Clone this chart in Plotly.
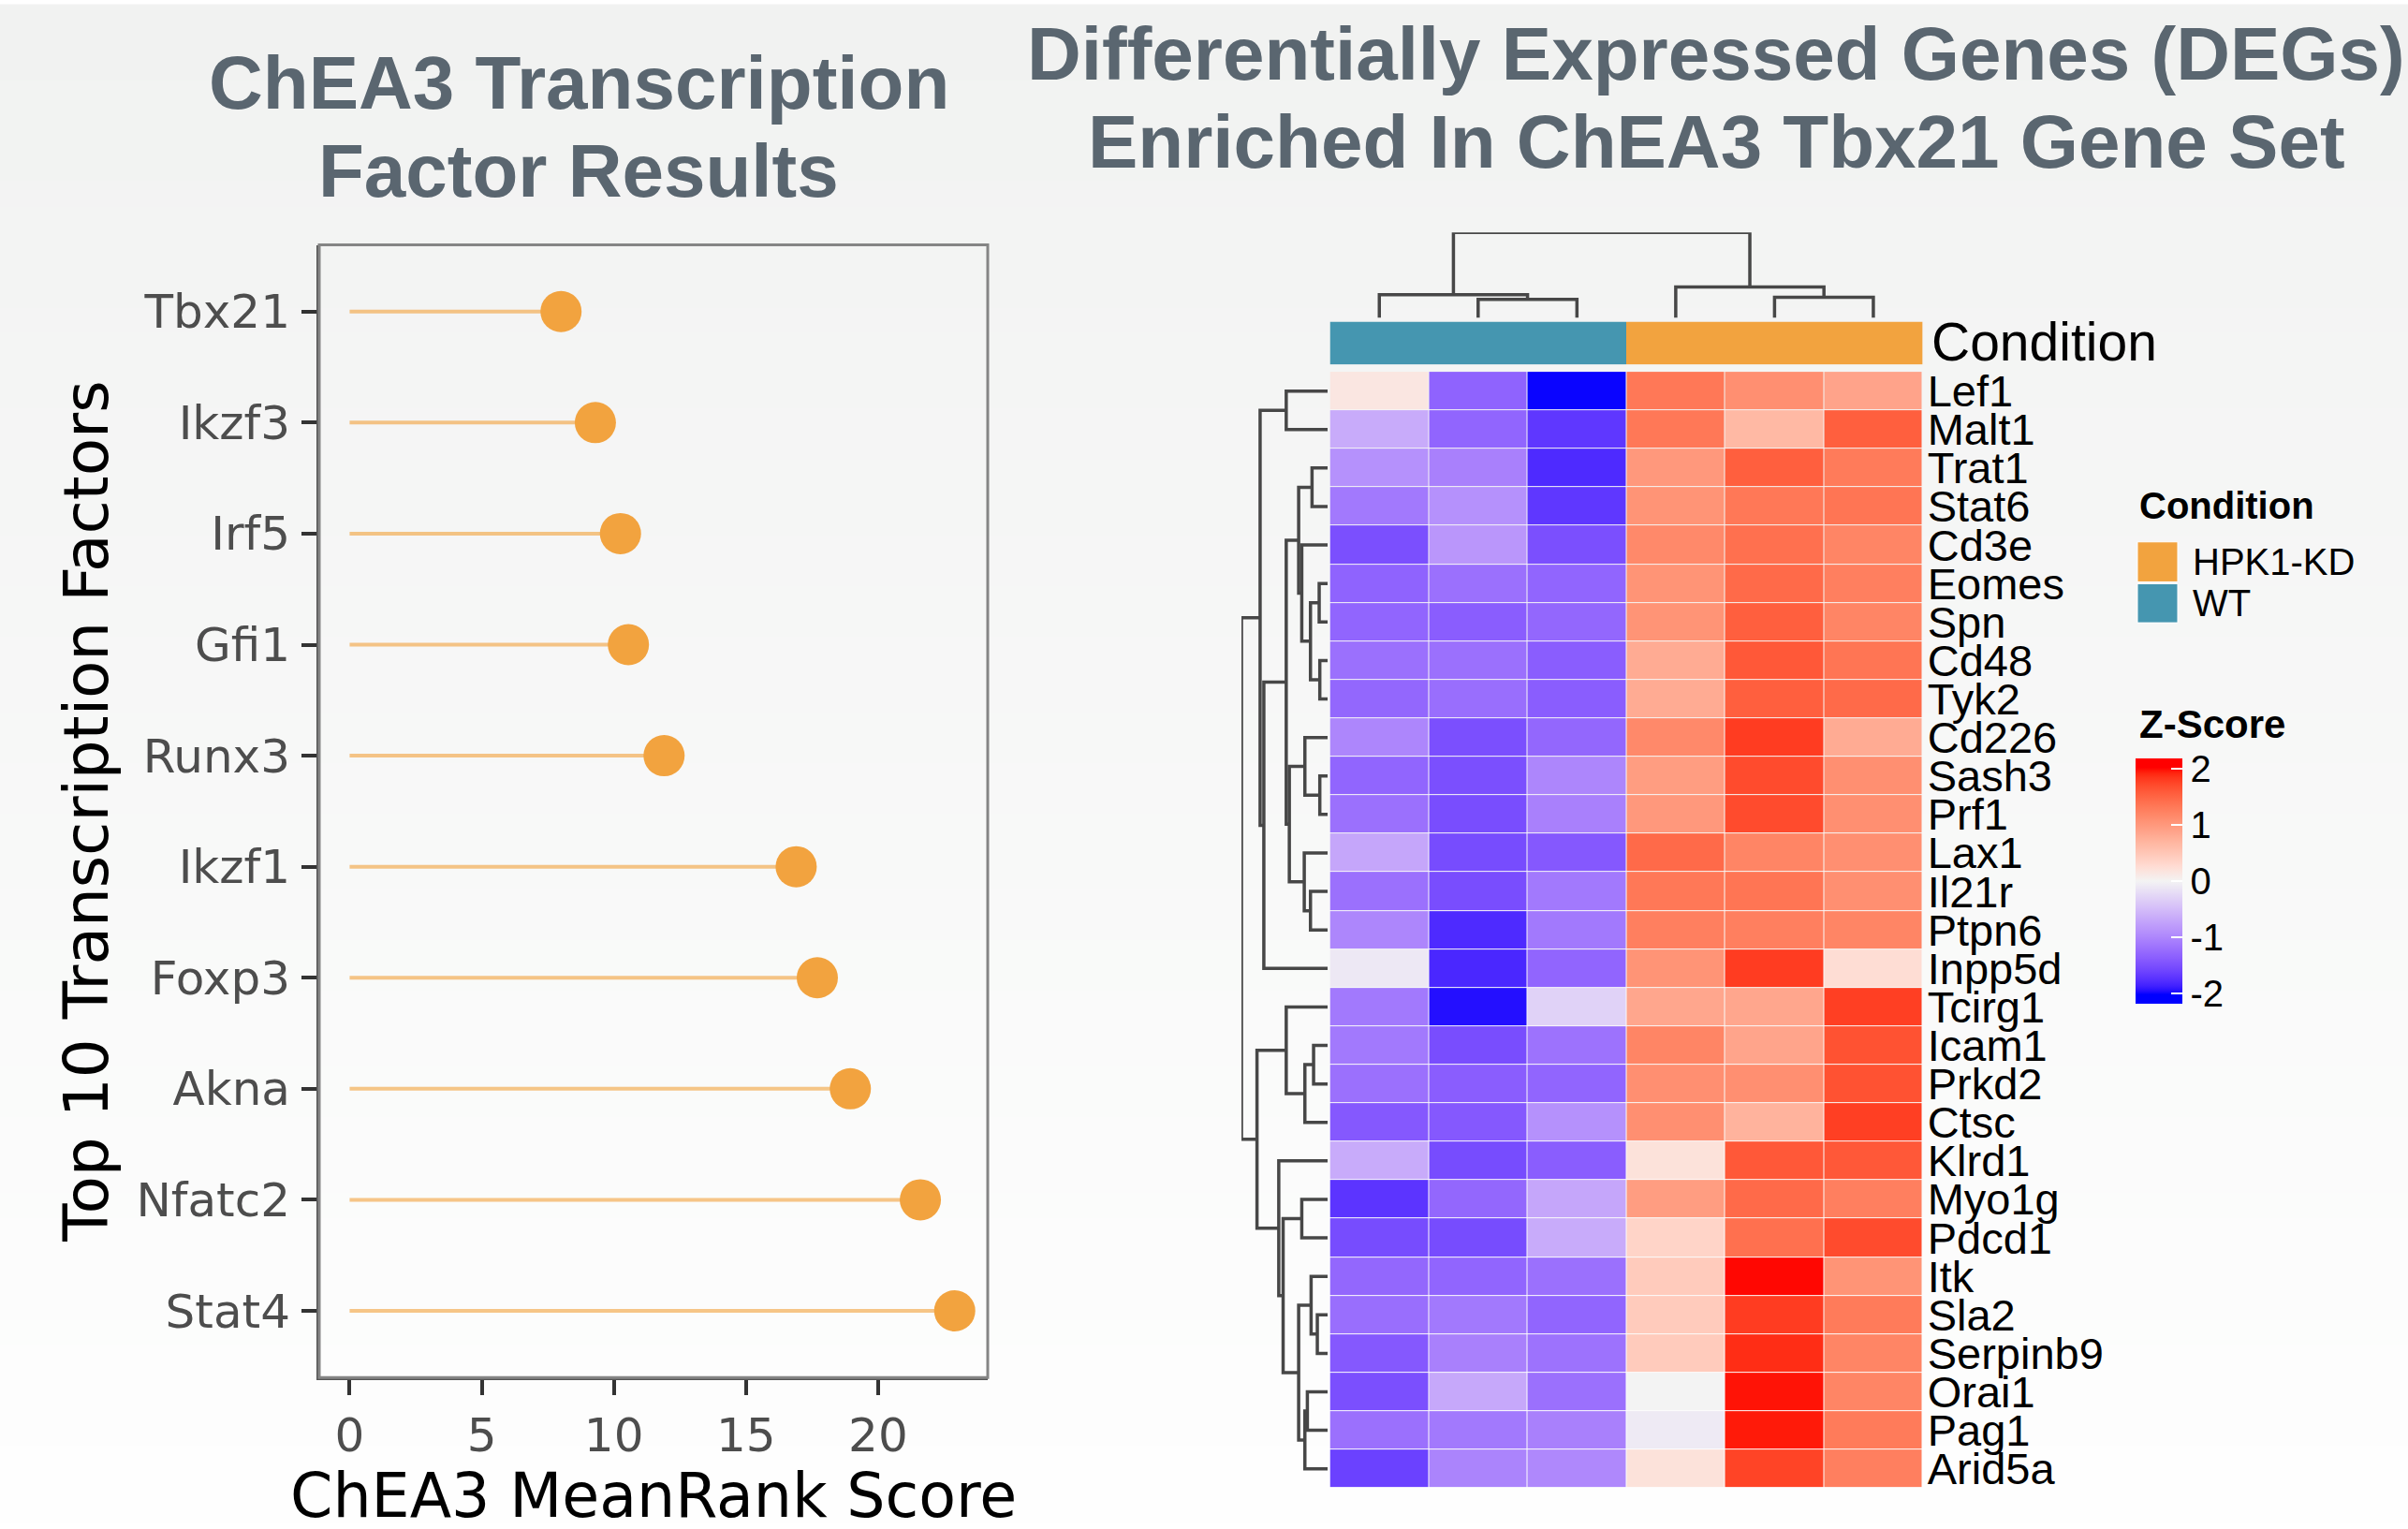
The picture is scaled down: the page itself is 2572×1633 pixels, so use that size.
import plotly.graph_objects as go

W, H = 2572, 1633

# ---------------- data: lollipop ----------------
tf_names = ["Tbx21", "Ikzf3", "Irf5", "Gfi1", "Runx3", "Ikzf1", "Foxp3", "Akna", "Nfatc2", "Stat4"]
tf_scores = [8.0, 9.3, 10.25, 10.55, 11.9, 16.9, 17.7, 18.95, 21.6, 22.9]
x_ticks = [0, 5, 10, 15, 20]

# ---------------- data: heatmap ----------------
genes = ["Lef1", "Malt1", "Trat1", "Stat6", "Cd3e", "Eomes", "Spn", "Cd48", "Tyk2", "Cd226",
         "Sash3", "Prf1", "Lax1", "Il21r", "Ptpn6", "Inpp5d", "Tcirg1", "Icam1", "Prkd2", "Ctsc",
         "Klrd1", "Myo1g", "Pdcd1", "Itk", "Sla2", "Serpinb9", "Orai1", "Pag1", "Arid5a"]
samples = ["WT_1", "WT_2", "WT_3", "KD_1", "KD_2", "KD_3"]
sample_condition = ["WT", "WT", "WT", "HPK1-KD", "HPK1-KD", "HPK1-KD"]

wt1 = [0.15, -0.65, -0.9, -1.12, -1.5, -1.32, -1.3, -1.2, -1.28, -1.0,
       -1.3, -1.2, -0.7, -1.2, -1.0, -0.1, -1.12, -1.12, -1.2, -1.42,
       -0.65, -1.72, -1.53, -1.28, -1.22, -1.42, -1.5, -1.2, -1.62]
wt2 = [-1.32, -1.3, -1.05, -0.9, -0.85, -1.2, -1.37, -1.2, -1.22, -1.5,
       -1.5, -1.52, -1.53, -1.52, -1.8, -1.82, -1.95, -1.52, -1.37, -1.42,
       -1.53, -1.28, -1.53, -1.3, -1.12, -1.05, -0.68, -1.12, -1.02]
wt3 = [-2.0, -1.7, -1.8, -1.7, -1.5, -1.3, -1.28, -1.37, -1.37, -1.28,
       -1.0, -1.05, -1.42, -1.12, -1.12, -1.3, -0.3, -1.18, -1.3, -0.9,
       -1.37, -0.7, -0.65, -1.2, -1.3, -1.18, -1.2, -1.05, -0.98]
kd1 = [1.33, 1.33, 1.0, 1.05, 1.15, 1.05, 1.05, 0.8, 0.8, 1.15,
       0.95, 1.0, 1.45, 1.33, 1.25, 1.05, 0.85, 1.2, 1.1, 1.1,
       0.2, 0.95, 0.35, 0.45, 0.45, 0.45, 0.0, -0.08, 0.2]
kd2 = [1.1, 0.65, 1.55, 1.33, 1.4, 1.45, 1.55, 1.6, 1.55, 1.8,
       1.7, 1.7, 1.2, 1.35, 1.25, 1.8, 0.85, 0.87, 1.1, 0.72,
       1.6, 1.45, 1.4, 2.0, 1.8, 1.88, 1.97, 1.95, 1.75]
kd3 = [0.88, 1.55, 1.3, 1.35, 1.2, 1.25, 1.2, 1.35, 1.45, 0.8,
       1.1, 1.1, 1.1, 1.1, 1.2, 0.25, 1.78, 1.65, 1.65, 1.78,
       1.6, 1.25, 1.7, 1.05, 1.3, 1.2, 1.2, 1.3, 1.25]

# dendrograms: (node, left child, right child, merge height)
row_links = [
    ("A", "Lef1", "Malt1", 133), ("F", "Trat1", "Stat6", 50), ("I", "Eomes", "Spn", 27),
    ("J", "Cd48", "Tyk2", 25), ("H", "I", "J", 55), ("G", "Cd3e", "H", 83), ("D", "F", "G", 93),
    ("M", "Sash3", "Prf1", 25), ("K", "Cd226", "M", 73), ("N", "Il21r", "Ptpn6", 55),
    ("L", "Lax1", "N", 75), ("E", "K", "L", 123), ("C", "D", "E", 133), ("B", "C", "Inpp5d", 205),
    ("Top", "A", "B", 217), ("S", "Icam1", "Prkd2", 45), ("R", "S", "Ctsc", 73),
    ("P", "Tcirg1", "R", 133), ("U", "Myo1g", "Pdcd1", 83), ("Y", "Sla2", "Serpinb9", 33),
    ("Wn", "Itk", "Y", 53), ("Z", "Orai1", "Pag1", 65), ("X", "Z", "Arid5a", 73),
    ("V", "Wn", "X", 93), ("Tn", "U", "V", 143), ("Q", "Klrd1", "Tn", 157),
    ("Bot", "P", "Q", 227), ("Root", "Top", "Bot", 277),
]
col_links = [
    ("c23", "WT_2", "WT_3", 52), ("cWT", "WT_1", "c23", 65),
    ("c56", "KD_2", "KD_3", 58), ("cKD", "KD_1", "c56", 87),
    ("root", "cWT", "cKD", 240),
]

z_ticks = [-2, -1, 0, 1, 2]
z_ticktext = ["-2", "-1", "0", "1", "2"]

# ---------------- colours ----------------
ORANGE = "#f2a33f"
TEAL = "#4596b0"
TITLE_C = "#5a6670"


def _lin(c):
    c = c / 255
    return c / 12.92 if c <= 0.04045 else ((c + 0.055) / 1.055) ** 2.4


def rgb2lab(rgb):
    R, G, B = (_lin(v) for v in rgb)
    X = (0.4124 * R + 0.3576 * G + 0.1805 * B) / 0.95047
    Y = (0.2126 * R + 0.7152 * G + 0.0722 * B)
    Z = (0.0193 * R + 0.1192 * G + 0.9505 * B) / 1.08883
    f = lambda t: t ** (1 / 3) if t > 0.008856 else 7.787 * t + 16 / 116
    fx, fy, fz = f(X), f(Y), f(Z)
    return (116 * fy - 16, 500 * (fx - fy), 200 * (fy - fz))


def lab2rgb(lab):
    L, a, b = lab
    fy = (L + 16) / 116
    fx = fy + a / 500
    fz = fy - b / 200
    finv = lambda t: t ** 3 if t > 0.206893 else (t - 16 / 116) / 7.787
    X = 0.95047 * finv(fx)
    Y = finv(fy)
    Z = 1.08883 * finv(fz)
    R = 3.2406 * X - 1.5372 * Y - 0.4986 * Z
    G = -0.9689 * X + 1.8758 * Y + 0.0415 * Z
    B = 0.0557 * X - 0.2040 * Y + 1.0570 * Z

    def g(c):
        c = min(max(c, 0.0), 1.0)
        return 12.92 * c if c <= 0.0031308 else 1.055 * c ** (1 / 2.4) - 0.055
    return tuple(int(round(255 * g(c))) for c in (R, G, B))


LAB_BLUE = rgb2lab((0, 0, 255))
LAB_MID = rgb2lab((243, 243, 243))
LAB_RED = rgb2lab((255, 0, 0))


def zcolor(v):
    v = max(-2.0, min(2.0, v))
    if v < 0:
        t = (v + 2) / 2
        c1, c2 = LAB_BLUE, LAB_MID
    else:
        t = v / 2
        c1, c2 = LAB_MID, LAB_RED
    lab = tuple(c1[i] + (c2[i] - c1[i]) * t for i in range(3))
    r, g, b = lab2rgb(lab)
    return f"rgb({r},{g},{b})"


CMIN, CMAX = -2.18, 2.18
NSTOP = 81
colorscale = []
for k in range(NSTOP):
    p = k / (NSTOP - 1)
    v = CMIN + p * (CMAX - CMIN)
    colorscale.append([p, zcolor(v)])


def px_x(x):
    return x / W


def px_y(y):
    return 1 - y / H


fig = go.Figure()

# background gradient bands
shapes = []
NB = 60
for i in range(NB):
    t = i / (NB - 1)
    r = round(241 + (254 - 241) * t)
    g = round(242 + (254 - 242) * t)
    b = round(241 + (254 - 241) * t)
    shapes.append(dict(type="rect", xref="paper", yref="paper", x0=0, x1=1,
                       y0=1 - (i + 1) / NB, y1=1 - i / NB + 0.001,
                       fillcolor=f"rgb({r},{g},{b})", line=dict(width=0), layer="below"))

# ---------------- lollipop ----------------
seg_x, seg_y = [], []
for name, val in zip(tf_names, tf_scores):
    seg_x += [0, val, None]
    seg_y += [name, name, None]
fig.add_trace(go.Scatter(x=seg_x, y=seg_y, mode="lines", xaxis="x", yaxis="y",
                         line=dict(color="rgba(242,163,63,0.62)", width=4),
                         hoverinfo="skip", showlegend=False))
fig.add_trace(go.Scatter(x=tf_scores, y=tf_names, mode="markers", xaxis="x", yaxis="y",
                         marker=dict(color=ORANGE, size=44, line=dict(width=0)),
                         showlegend=False))

# ---------------- heatmap ----------------
zmat = [list(r) for r in zip(wt1, wt2, wt3, kd1, kd2, kd3)]
fig.add_trace(go.Heatmap(
    z=zmat, x=list(range(len(samples))), y=list(range(len(genes))),
    xaxis="x2", yaxis="y2", colorscale=colorscale, zmin=CMIN, zmax=CMAX,
    xgap=1, ygap=1, hoverinfo="z",
    colorbar=dict(
        x=px_x(2281), xanchor="left", xpad=0, ypad=0,
        y=px_y(942), yanchor="middle", len=262, lenmode="pixels",
        thickness=50, thicknessmode="pixels", outlinewidth=0,
        tickvals=z_ticks, ticktext=z_ticktext, ticks="inside", ticklen=12,
        tickcolor="white", tickwidth=2,
        tickfont=dict(family="Liberation Sans", size=40, color="black"),
    ),
))

# annotation bar
cond_codes = [0 if c == "WT" else 1 for c in sample_condition]
fig.add_trace(go.Heatmap(
    z=[cond_codes], x=list(range(len(samples))), y=[0], xaxis="x2", yaxis="y5",
    colorscale=[[0, TEAL], [0.5, TEAL], [0.5, ORANGE], [1, ORANGE]],
    zmin=0, zmax=1, showscale=False, hoverinfo="skip"))


def dendro_segments(links, leaves):
    pos = {n: i for i, n in enumerate(leaves)}
    hgt = {n: 0.0 for n in leaves}
    xs, hs = [], []
    for node, a, b, h in links:
        pa, pb = pos[a], pos[b]
        xs += [pa, pa, pb, pb, None]
        hs += [hgt[a], h, h, hgt[b], None]
        pos[node] = (pa + pb) / 2
        hgt[node] = h
    return xs, hs


rp, rh = dendro_segments(row_links, genes)
fig.add_trace(go.Scatter(x=rh, y=rp, mode="lines", xaxis="x3", yaxis="y2",
                         line=dict(color="#474747", width=3.5), hoverinfo="skip", showlegend=False))
cp, ch = dendro_segments(col_links, samples)
fig.add_trace(go.Scatter(x=cp, y=ch, mode="lines", xaxis="x2", yaxis="y4",
                         line=dict(color="#474747", width=3.5), hoverinfo="skip", showlegend=False))

# ---------------- axes ----------------
lp_x0, lp_x1 = px_x(341), px_x(1055)
lp_y0, lp_y1 = px_y(1476), px_y(257.5)
hm_x0, hm_x1 = px_x(1420.5), px_x(2053.7)
hm_y0, hm_y1 = px_y(1595), px_y(394)

axis_hidden = dict(visible=False, showgrid=False, zeroline=False, fixedrange=True)

fig.update_layout(
    width=W, height=H, margin=dict(l=0, r=0, t=0, b=0),
    paper_bgcolor="white", plot_bgcolor="rgba(0,0,0,0)",
    showlegend=False,
    xaxis=dict(domain=[lp_x0, lp_x1], range=[-1.15, 24.15], anchor="y",
               tickvals=x_ticks, ticks="outside", ticklen=16, tickwidth=4, tickcolor="#333333",
               tickfont=dict(family="DejaVu Sans", size=50, color="#4d4d4d"),
               showgrid=False, zeroline=False, showline=True, linecolor="#555555", linewidth=3,
               ticklabelstandoff=0),
    yaxis=dict(domain=[lp_y0, lp_y1], type="category", categoryorder="array",
               categoryarray=tf_names, range=[9.6, -0.6], anchor="x",
               ticks="outside", ticklen=16, tickwidth=4, tickcolor="#333333",
               tickfont=dict(family="DejaVu Sans", size=50, color="#4d4d4d"),
               showgrid=False, zeroline=False, showline=True, linecolor="#555555", linewidth=3,
               ticklabelstandoff=2),
    xaxis2=dict(domain=[hm_x0, hm_x1], range=[-0.5, 5.5], anchor="y2", **axis_hidden),
    yaxis2=dict(domain=[hm_y0, hm_y1], range=[len(genes) - 0.5, -0.5], anchor="x2",
                side="right", tickvals=list(range(len(genes))), ticktext=genes, ticks="",
                tickfont=dict(family="Liberation Sans", size=47, color="black"),
                showgrid=False, zeroline=False, showline=False, ticklabelstandoff=4),
    xaxis3=dict(domain=[px_x(1326), px_x(1418)], range=[277, 0], anchor="y2", **axis_hidden),
    yaxis4=dict(domain=[px_y(336), px_y(244)], range=[0, 240], anchor="x2", **axis_hidden),
    yaxis5=dict(domain=[px_y(386), px_y(340)], range=[-0.5, 0.5], anchor="x2", **axis_hidden),
)

# panel border of lollipop
shapes.append(dict(type="rect", xref="paper", yref="paper", x0=lp_x0, x1=lp_x1, y0=lp_y0, y1=lp_y1,
                   line=dict(color="#858585", width=3), fillcolor="rgba(0,0,0,0)", layer="above"))

# condition legend squares
shapes.append(dict(type="rect", xref="paper", yref="paper", x0=px_x(2283), x1=px_x(2326),
                   y0=px_y(620), y1=px_y(577), fillcolor=ORANGE, line=dict(color="white", width=1)))
shapes.append(dict(type="rect", xref="paper", yref="paper", x0=px_x(2283), x1=px_x(2326),
                   y0=px_y(664), y1=px_y(622), fillcolor=TEAL, line=dict(color="white", width=1)))

annotations = []


def add_text(text, x, y, size, family="Liberation Sans", color="black", bold=False,
             xanchor="center", yanchor="middle", angle=0):
    annotations.append(dict(text=text, x=px_x(x), y=px_y(y), xref="paper", yref="paper",
                            showarrow=False, xanchor=xanchor, yanchor=yanchor, textangle=angle,
                            font=dict(family=family, size=size, color=color,
                                      weight="bold" if bold else "normal")))


# titles
add_text("ChEA3 Transcription", 618, 83, 80, color=TITLE_C, bold=True)
add_text("Factor Results", 618, 178, 80, color=TITLE_C, bold=True)
add_text("Differentially Expressed Genes (DEGs)", 1833, 52, 80, color=TITLE_C, bold=True)
add_text("Enriched In ChEA3 Tbx21 Gene Set", 1833, 147, 80, color=TITLE_C, bold=True)

# lollipop axis titles
add_text("ChEA3 MeanRank Score", 698, 1603, 65, family="DejaVu Sans")
add_text("Top 10 Transcription Factors", 93, 867, 66, family="DejaVu Sans", angle=-90)

# heatmap annotation label
add_text("Condition", 2061, 362, 57, xanchor="left")

# legends
add_text("Condition", 2283, 538, 40, bold=True, xanchor="left")
add_text("HPK1-KD", 2340, 598, 40, xanchor="left")
add_text("WT", 2340, 643, 40, xanchor="left")
add_text("Z-Score", 2283, 773, 42, bold=True, xanchor="left")

fig.update_layout(shapes=shapes, annotations=annotations)

fig.write_html("out.html", config={"displayModeBar": False},
               post_script="document.body.style.margin='0px';document.body.style.overflow='hidden';")
